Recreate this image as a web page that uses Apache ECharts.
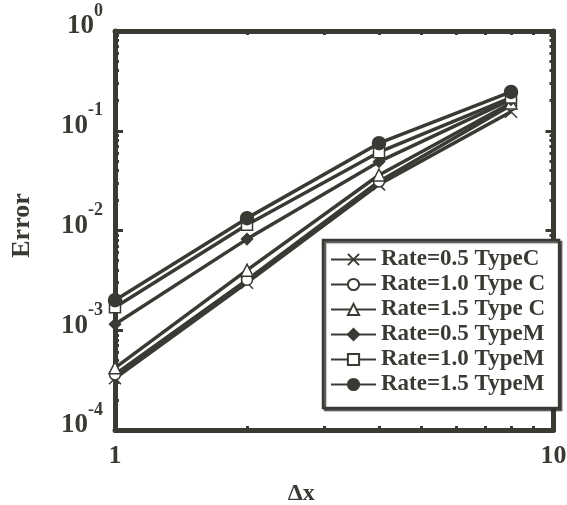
<!DOCTYPE html>
<html>
<head>
<meta charset="utf-8">
<script src="https://cdn.jsdelivr.net/npm/echarts@6/dist/echarts.min.js"></script>
<style>
html,body{margin:0;padding:0;background:#fff;}
#chart{width:567px;height:505px;}
</style>
</head>
<body>
<div id="chart"></div>
<script>
// ---- data ----
const dx = [1, 2, 4, 8];
const seriesNames = ['Rate=0.5 TypeC', 'Rate=1.0 Type C', 'Rate=1.5 Type C', 'Rate=0.5 TypeM', 'Rate=1.0 TypeM', 'Rate=1.5 TypeM'];
const rate05C = [3.3e-4, 3.0e-3, 2.9e-2, 0.155];
const rate10C = [3.6e-4, 3.2e-3, 3.1e-2, 0.18];
const rate15C = [4.2e-4, 4.0e-3, 3.6e-2, 0.19];
const rate05M = [1.15e-3, 8.2e-3, 4.9e-2, 0.205];
const rate10M = [1.7e-3, 1.14e-2, 6.1e-2, 0.215];
const rate15M = [2.0e-3, 1.33e-2, 7.5e-2, 0.245];
const yDecades = [1e-4, 1e-3, 1e-2, 1e-1, 1];
const minorMultipliers = [2, 3, 4, 5, 6, 7, 8, 9];
const xTickLabels = ['1', '10'];

// ---- styling ----
const DARK = '#3a3a35';
const FONT = 'Liberation Serif';

const yMinor = [];
for (let i = 0; i < yDecades.length - 1; i++) {
  minorMultipliers.forEach(m => yMinor.push(yDecades[i] * m));
}
const xMinor = minorMultipliers.slice();

const pair = arr => dx.map((x, i) => [x, arr[i]]);

const symbols = [
  {symbol: 'path://M0,0L10,10M0,10L10,0', size: 12, fill: '#fff'},
  {symbol: 'circle', size: 11, fill: '#fff'},
  {symbol: 'triangle', size: 12, fill: '#fff'},
  {symbol: 'diamond', size: 11, fill: DARK},
  {symbol: 'rect', size: 11, fill: '#fff'},
  {symbol: 'circle', size: 13, fill: DARK}
];
const dataSets = [rate05C, rate10C, rate15C, rate05M, rate10M, rate15M];

const series = dataSets.map((d, i) => ({
  name: seriesNames[i],
  type: 'line',
  xAxisIndex: 0,
  yAxisIndex: 0,
  data: pair(d),
  symbol: symbols[i].symbol,
  symbolSize: symbols[i].size,
  showAllSymbol: true,
  lineStyle: {color: DARK, width: 3.5},
  itemStyle: {color: symbols[i].fill, borderColor: DARK, borderWidth: 1.5, opacity: 1},
  emphasis: {disabled: true},
  z: 2 + i
}));

const baseX = {
  type: 'log', logBase: 10, min: 1, max: 10, gridIndex: 0,
  splitLine: {show: false}, minorTick: {show: false}, minorSplitLine: {show: false}
};
const baseY = {
  type: 'log', logBase: 10, min: 1e-4, max: 1, gridIndex: 0,
  splitLine: {show: false}, minorTick: {show: false}, minorSplitLine: {show: false}
};

const option = {
  animation: false,
  backgroundColor: '#fff',
  grid: {left: 115, right: 13.5, top: 31, bottom: 75, containLabel: false, outerBoundsMode: 'none'},
  xAxis: [
    Object.assign({}, baseX, {
      position: 'bottom',
      axisLine: {show: true, lineStyle: {color: DARK, width: 5}},
      axisTick: {show: true, inside: true, length: 8, lineStyle: {color: DARK, width: 3}},
      axisLabel: {
        show: true, margin: 13, color: DARK, fontFamily: FONT, fontWeight: 'bold', fontSize: 26,
        formatter: v => { const e = Math.round(Math.log10(v)); return xTickLabels[e]; }
      },
      name: 'Δx', nameLocation: 'middle', nameGap: 52,
      nameTextStyle: {color: DARK, fontFamily: FONT, fontWeight: 'bold', fontSize: 24, padding: [0, 66, 0, 0]}
    }),
    Object.assign({}, baseX, {
      position: 'bottom',
      axisLine: {show: false},
      axisTick: {show: true, inside: true, length: 4, customValues: xMinor, lineStyle: {color: DARK, width: 3}},
      axisLabel: {show: false}
    }),
    Object.assign({}, baseX, {
      position: 'top',
      axisLine: {show: true, lineStyle: {color: DARK, width: 5}},
      axisTick: {show: true, inside: true, length: 4, customValues: xMinor, lineStyle: {color: DARK, width: 3}},
      axisLabel: {show: false}
    })
  ],
  yAxis: [
    Object.assign({}, baseY, {
      position: 'left',
      axisLine: {show: true, lineStyle: {color: DARK, width: 5}},
      axisTick: {show: true, inside: true, length: 8, lineStyle: {color: DARK, width: 3}},
      axisLabel: {
        show: true, margin: 12, color: DARK, padding: [0, 0, 20, 0],
        formatter: v => '{b|10}{s|' + Math.round(Math.log10(v)) + '}',
        rich: {
          b: {fontFamily: FONT, fontWeight: 'bold', fontSize: 27, lineHeight: 38, color: DARK, verticalAlign: 'bottom'},
          s: {fontFamily: FONT, fontWeight: 'bold', fontSize: 18, lineHeight: 14, color: DARK, verticalAlign: 'top'}
        }
      },
      name: 'Error', nameLocation: 'middle', nameGap: 80, nameRotate: 90,
      nameTextStyle: {color: DARK, fontFamily: FONT, fontWeight: 'bold', fontSize: 26, padding: [0, 0, 0, 10]}
    }),
    Object.assign({}, baseY, {
      position: 'left',
      axisLine: {show: false},
      axisTick: {show: true, inside: true, length: 4, customValues: yMinor, lineStyle: {color: DARK, width: 3}},
      axisLabel: {show: false}
    }),
    Object.assign({}, baseY, {
      position: 'right',
      axisLine: {show: true, lineStyle: {color: DARK, width: 5}},
      axisTick: {show: true, inside: true, length: 8, lineStyle: {color: DARK, width: 3}},
      axisLabel: {show: false}
    }),
    Object.assign({}, baseY, {
      position: 'right',
      axisLine: {show: false},
      axisTick: {show: true, inside: true, length: 4, customValues: yMinor, lineStyle: {color: DARK, width: 3}},
      axisLabel: {show: false}
    })
  ],
  legend: {
    show: true,
    orient: 'vertical',
    left: 323, top: 240,
    data: seriesNames,
    itemWidth: 45, itemHeight: 14, itemGap: 2,
    padding: [8, 14, 12, 7],
    backgroundColor: '#fff',
    borderColor: DARK, borderWidth: 2.5, borderRadius: 0,
    shadowColor: 'rgba(40,40,40,0.8)', shadowBlur: 1, shadowOffsetX: 2, shadowOffsetY: 2,
    selectedMode: false,
    textStyle: {color: DARK, fontFamily: FONT, fontWeight: 'bold', fontSize: 23, lineHeight: 22},
    z: 20
  },
  series: series
};

const chart = echarts.init(document.getElementById('chart'), null, {renderer: 'canvas'});
chart.setOption(option);
</script>
</body>
</html>
